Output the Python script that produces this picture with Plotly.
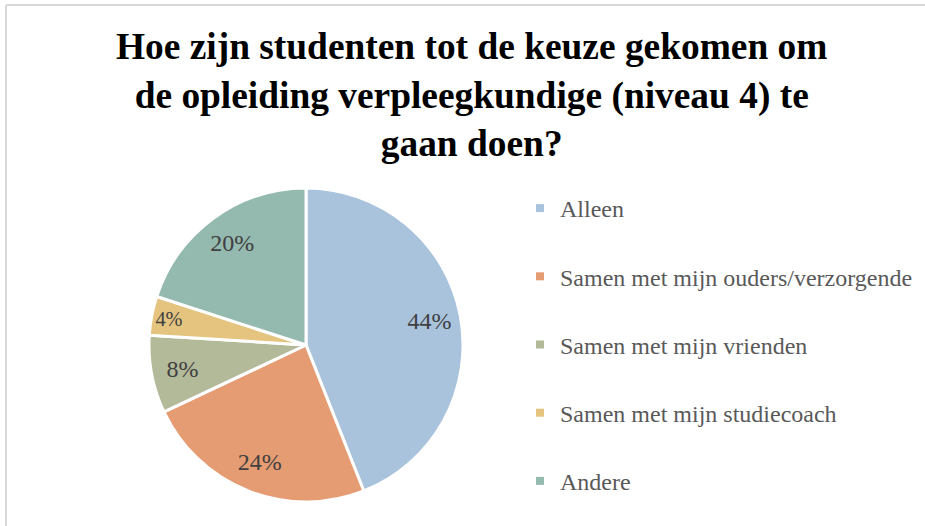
import plotly.graph_objects as go

title_lines = ["Hoe zijn studenten tot de keuze gekomen om",
               "de opleiding verpleegkundige (niveau 4) te",
               "gaan doen?"]
categories = ["Alleen", "Samen met mijn ouders/verzorgende", "Samen met mijn vrienden",
              "Samen met mijn studiecoach", "Andere"]
values = [44, 24, 8, 4, 20]
colors = ["#a9c3dd", "#e69c73", "#b3ba9a", "#e4c47f", "#94b9ae"]

W, H = 925, 526
cx, cy, r = 306, 345, 157
dom_x = [(cx - r) / W, (cx + r) / W]
dom_y = [1 - (cy + r) / H, 1 - (cy - r) / H]

SERIF = "Liberation Serif"

fig = go.Figure()
fig.add_trace(go.Pie(
    labels=categories, values=values, sort=False, direction="clockwise", rotation=0,
    marker=dict(colors=colors, line=dict(color="white", width=3)),
    textinfo="none", showlegend=False, domain=dict(x=dom_x, y=dom_y), hoverinfo="label+percent"))
fig.add_trace(go.Pie(
    labels=categories, values=values, sort=False, direction="clockwise", rotation=0,
    hole=0.6,
    marker=dict(colors=["rgba(0,0,0,0)"] * len(values), line=dict(width=0)),
    textinfo="percent", textposition="inside", insidetextorientation="horizontal",
    textfont=dict(family=SERIF, size=24, color="#404040"),
    texttemplate="%{percent:.0%}",
    showlegend=False, domain=dict(x=dom_x, y=dom_y), hoverinfo="skip"))

for i, (cat, col) in enumerate(zip(categories, colors)):
    fig.add_trace(go.Scatter(x=[None], y=[None], mode="markers", name=cat,
                             legendgroup=f"g{i}",
                             marker=dict(symbol="square", size=8, color=col)))

fig.update_layout(
    width=W, height=H,
    margin=dict(l=0, r=0, t=0, b=0),
    font=dict(family=SERIF),
    paper_bgcolor="white", plot_bgcolor="white",
    xaxis=dict(visible=False), yaxis=dict(visible=False),
    annotations=[dict(text="<br>".join(f"<b>{t}</b>" for t in title_lines),
                      xref="paper", yref="paper", x=471 / W, xanchor="center",
                      y=1 - 24 / H, yanchor="top", showarrow=False, align="center",
                      font=dict(family=SERIF, size=37.4, color="#000000"))],
    legend=dict(x=520 / W, xanchor="left", y=1 - 186 / H, yanchor="top",
                font=dict(family=SERIF, size=24, color="#595959"),
                tracegroupgap=34, itemsizing="trace", bgcolor="rgba(0,0,0,0)"),
    shapes=[
        dict(type="line", xref="paper", yref="paper", x0=6 / W, x1=1, y0=1 - 5 / H, y1=1 - 5 / H,
             line=dict(color="#d9d9d9", width=2)),
        dict(type="line", xref="paper", yref="paper", x0=6 / W, x1=6 / W, y0=0, y1=1 - 5 / H,
             line=dict(color="#d9d9d9", width=2)),
    ],
)

fig.write_html("out.html")
